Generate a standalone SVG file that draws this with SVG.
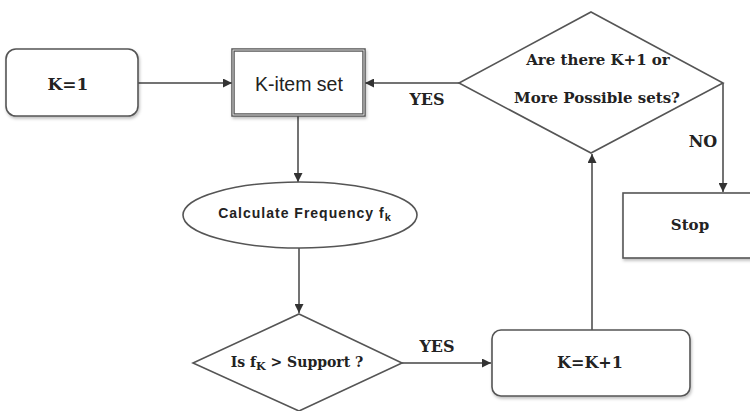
<svg xmlns="http://www.w3.org/2000/svg" width="750" height="411" viewBox="0 0 750 411">
<defs>
<marker id="ah" viewBox="0 0 10 10" refX="10" refY="5" markerWidth="9" markerHeight="9" markerUnits="userSpaceOnUse" orient="auto">
<path d="M0,0 L10,5 L0,10 z" fill="#333"/>
</marker>
<filter id="sh" x="-10%" y="-10%" width="120%" height="130%">
<feDropShadow dx="1" dy="2" stdDeviation="1.5" flood-color="#000" flood-opacity="0.25"/>
</filter>
</defs>
<style>
.shape{fill:#fff;stroke:#555;stroke-width:1.6}
.conn{fill:none;stroke:#444;stroke-width:1.5}
.serif{font-family:"DejaVu Serif","Liberation Serif",serif;font-weight:bold;fill:#222}
.sans{font-family:"Liberation Sans",Arial,sans-serif;fill:#222}
</style>
<rect width="750" height="411" fill="#fff"/>
<g id="connectors">
<line class="conn" x1="138" y1="83" x2="232" y2="83" marker-end="url(#ah)"/>
<line class="conn" x1="459" y1="83" x2="365" y2="83" marker-end="url(#ah)"/>
<line class="conn" x1="298" y1="116" x2="298" y2="182" marker-end="url(#ah)"/>
<line class="conn" x1="299" y1="248" x2="299" y2="313" marker-end="url(#ah)"/>
<line class="conn" x1="402" y1="363" x2="491" y2="363" marker-end="url(#ah)"/>
<line class="conn" x1="592" y1="330" x2="592" y2="154" marker-end="url(#ah)"/>
<line class="conn" x1="723" y1="83" x2="723" y2="192" marker-end="url(#ah)"/>
<text class="serif" x="427" y="105" font-size="16" text-anchor="middle">YES</text>
<text class="serif" x="703" y="147" font-size="16" text-anchor="middle">NO</text>
<text class="serif" x="437" y="352" font-size="16" text-anchor="middle">YES</text>
</g>
<g id="k1">
<rect class="shape" x="6" y="49" width="132" height="67" rx="10" filter="url(#sh)"/>
<text class="serif" x="68" y="90" font-size="17" text-anchor="middle">K=1</text>
</g>
<g id="kitemset">
<rect x="233" y="50" width="131" height="65" fill="#fff" stroke="#555" stroke-width="3.5" filter="url(#sh)"/>
<rect x="233" y="50" width="131" height="65" fill="none" stroke="#fff" stroke-width="0.8"/>
<text class="sans" x="299" y="91" font-size="19.5" text-anchor="middle">K-item set</text>
</g>
<g id="decision-more">
<polygon class="shape" points="591,12 723,83 591,153 459,83"/>
<text class="serif" x="598" y="65" font-size="15" text-anchor="middle">Are there K+1 or</text>
<text class="serif" x="597" y="103" font-size="15" text-anchor="middle">More Possible sets?</text>
</g>
<g id="stop">
<rect class="shape" x="623" y="193" width="130" height="65" filter="url(#sh)"/>
<text class="serif" x="690" y="230" font-size="15" text-anchor="middle">Stop</text>
</g>
<g id="calc">
<ellipse class="shape" cx="300" cy="215" rx="117" ry="33"/>
<text class="sans" x="305" y="218" font-size="14" font-weight="bold" letter-spacing="1" text-anchor="middle">Calculate Frequency f<tspan font-size="11" dy="3">k</tspan></text>
</g>
<g id="decision-support">
<polygon class="shape" points="299,314 402,363 299,411 193,363"/>
<text class="serif" x="297" y="367" font-size="14" text-anchor="middle">Is f<tspan font-size="11" dy="3">K</tspan><tspan dy="-3"> &gt; Support ?</tspan></text>
</g>
<g id="kinc">
<rect class="shape" x="492" y="330" width="198" height="66" rx="9" filter="url(#sh)"/>
<text class="serif" x="590" y="368" font-size="16" text-anchor="middle">K=K+1</text>
</g>
</svg>
